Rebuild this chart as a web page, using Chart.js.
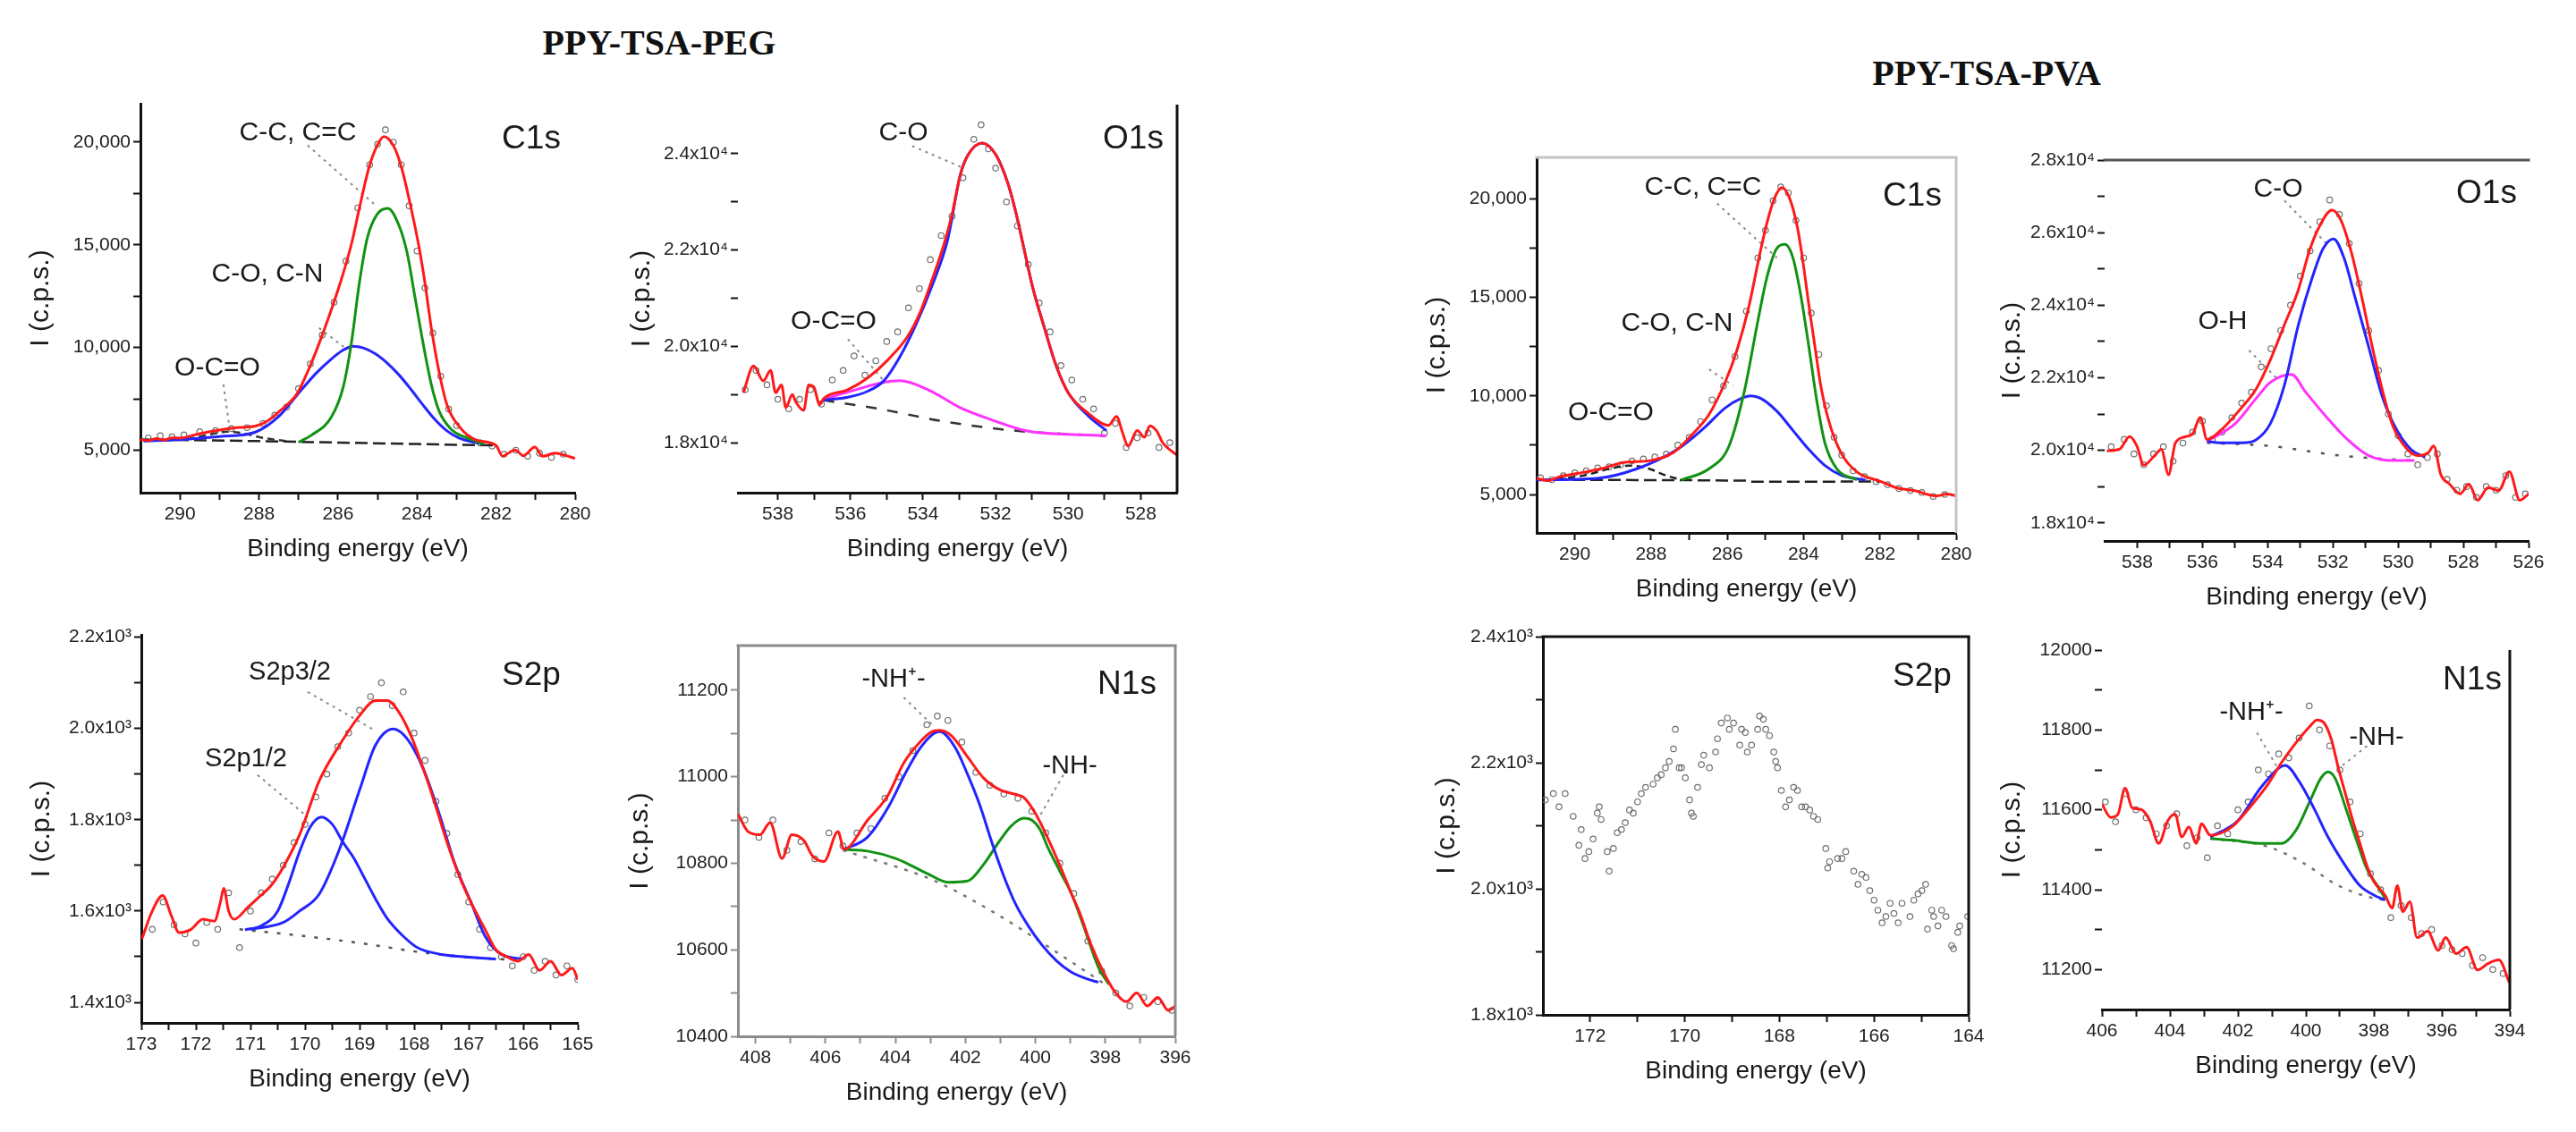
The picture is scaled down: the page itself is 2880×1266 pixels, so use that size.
<!DOCTYPE html>
<html>
<head>
<meta charset="utf-8">
<script src="https://cdn.jsdelivr.net/npm/chart.js@4.4.1/dist/chart.umd.min.js"></script>
<style>
html, body { margin: 0; padding: 0; background: #fff; }
#page { position: relative; width: 2880px; height: 1266px; overflow: hidden; background: #fff; }
canvas { position: absolute; }
.note { position: absolute; transform: translate(-50%, -50%); font-family: "Liberation Sans", Arial, sans-serif; color: #1a1a1a; white-space: nowrap; line-height: 1; }
.title { position: absolute; transform: translate(-50%, -50%); font-family: "Liberation Serif", "Times New Roman", serif; font-weight: bold; font-size: 40px; color: #111; white-space: nowrap; line-height: 1; }
</style>
</head>
<body>
<div id="page">
  <canvas id="pegC1s"></canvas>
  <canvas id="pegO1s"></canvas>
  <canvas id="pegS2p"></canvas>
  <canvas id="pegN1s"></canvas>
  <canvas id="pvaC1s"></canvas>
  <canvas id="pvaO1s"></canvas>
  <canvas id="pvaS2p"></canvas>
  <canvas id="pvaN1s"></canvas>
</div>
<script>
// Data: [binding energy (eV), intensity (c.p.s.)]

// PPY-TSA-PEG, C1s
const pegC1sFit = [[291.0,5510],[290.8,5470],[290.6,5560],[290.4,5500],[290.2,5600],[290.0,5590],[289.6,5760],[289.28,5890],[288.9,6010],[288.51,6110],[288.09,6170],[287.8,6400],[287.48,6896],[287.03,7768],[286.75,8900],[286.47,10240],[286.17,11835],[285.92,13290],[285.66,15034],[285.46,16778],[285.21,18810],[285.01,19830],[284.84,20265],[284.6,19830],[284.4,18810],[284.15,16778],[283.95,14887],[283.8,13142],[283.64,10963],[283.44,8784],[283.24,7188],[282.94,6168],[282.53,5514],[282.0,5227],[281.84,4717],[281.52,5009],[281.31,4730],[281.02,5150],[280.82,4700],[280.51,4860],[280.2,4720],[280.0,4600]];
const pegC1sCC = [[287.0,5380],[286.67,5733],[286.17,6604],[285.87,8060],[285.66,10240],[285.46,13142],[285.26,15322],[285.01,16486],[284.74,16778],[284.45,15906],[284.25,14598],[284.05,12419],[283.85,10240],[283.64,8204],[283.44,6896],[283.14,6024],[282.73,5588],[282.3,5300]];
const pegC1sCO = [[290.92,5443],[290.01,5514],[289.0,5661],[288.09,5880],[287.48,6678],[287.03,7700],[286.57,8714],[286.17,9438],[285.87,9874],[285.62,10065],[285.36,9978],[285.06,9700],[284.76,9250],[284.45,8650],[284.15,7950],[283.85,7200],[283.55,6500],[283.25,5950],[282.95,5600],[282.6,5400],[282.3,5300]];
const pegC1sOCO = [[290.4,5480],[289.8,5560],[289.2,5780],[288.8,5900],[288.4,5820],[287.9,5600],[287.3,5440]];
const pegC1sBg = [[291.0,5520],[288.0,5440],[286.0,5370],[284.0,5300],[282.0,5230]];
const pegC1sRaw = [[290.8,5600],[290.5,5700],[290.2,5650],[289.9,5750],[289.5,5900],[289.1,5950],[288.7,6050],[288.3,6100],[287.9,6300],[287.6,6700],[287.3,7100],[287.0,8000],[286.7,9200],[286.4,10600],[286.1,12200],[285.8,14200],[285.5,16800],[285.2,18900],[285.0,19900],[284.8,20600],[284.6,20000],[284.4,18900],[284.2,16900],[284.0,14700],[283.8,12900],[283.6,10700],[283.4,8600],[283.2,7000],[283.0,6200],[282.7,5600],[282.4,5350],[282.1,5200],[281.8,4800],[281.5,5000],[281.2,4700],[280.9,4850],[280.6,4650],[280.3,4800]];
const pegC1sLeaders = [[[286.77,19843],[285.05,16922]],[[286.48,10950],[285.86,10034]],[[288.9,8200],[288.74,6024]]];

// PPY-TSA-PEG, O1s
const pegO1sFit = [[538.95,19037],[538.67,19593],[538.4,19284],[538.2,19500],[538.06,19037],[537.9,19200],[537.78,18728],[537.6,19000],[537.51,18852],[537.29,18667],[537.15,19200],[537.01,19160],[536.85,18790],[536.74,18913],[536.07,19098],[535.52,19346],[534.97,19716],[534.42,20209],[534.08,20703],[533.75,21383],[533.42,22124],[533.2,22741],[532.98,23543],[532.76,23975],[532.37,24222],[531.99,23975],[531.65,23358],[531.43,22741],[531.21,22000],[530.99,21259],[530.66,20394],[530.33,19593],[530.0,19037],[529.44,18605],[528.89,18358],[528.67,18543],[528.5,18200],[528.35,17926],[528.1,18250],[527.9,18111],[527.75,18350],[527.56,18240],[527.4,18000],[527.23,17870],[527.0,17740]];
const pegO1sCO = [[536.74,18883],[536.07,18944],[535.52,19068],[535.08,19284],[534.64,19778],[534.19,20457],[533.75,21259],[533.31,22247],[532.98,23543],[532.76,23975],[532.37,24222],[531.99,23975],[531.65,23358],[531.43,22741],[531.21,22000],[530.99,21259],[530.66,20394],[530.33,19593],[530.0,19037],[529.44,18550],[528.95,18250]];
const pegO1sOCO = [[536.74,18900],[535.85,19098],[535.08,19253],[534.64,19284],[533.86,19098],[532.98,18728],[532.14,18482],[531.1,18235],[530.0,18173],[528.95,18142]];
const pegO1sBg = [[536.74,18880],[535.2,18700],[533.5,18450],[531.5,18250],[529.0,18140]];
const pegO1sRaw = [[538.9,19100],[538.6,19500],[538.3,19200],[538.0,18900],[537.7,18700],[537.4,18900],[537.1,19100],[536.8,18800],[536.5,19300],[536.2,19500],[535.9,19800],[535.6,19400],[535.3,19700],[535.0,20100],[534.7,20300],[534.4,20800],[534.1,21200],[533.8,21800],[533.5,22300],[533.2,22700],[532.9,23500],[532.6,24300],[532.4,24600],[532.2,24100],[532.0,23700],[531.7,23000],[531.4,22500],[531.1,21700],[530.8,20900],[530.5,20300],[530.2,19600],[529.9,19300],[529.6,18900],[529.3,18700],[529.0,18200],[528.7,18400],[528.4,17900],[528.1,18100],[527.8,18200],[527.5,17900],[527.2,18000]];
const pegO1sLeaders = [[[534.3,24161],[532.87,23698]],[[536.07,20148],[535.08,19284]]];

// PPY-TSA-PEG, S2p
const pegS2pFit = [[172.99,1539],[172.8,1600],[172.61,1634],[172.45,1590],[172.31,1553],[172.1,1559],[171.87,1582],[171.66,1578],[171.55,1620],[171.49,1650],[171.4,1600],[171.3,1582],[171.05,1608],[170.84,1631],[170.62,1656],[170.4,1696],[170.1,1767],[169.74,1885],[169.37,1963],[169.0,2028],[168.71,2061],[168.49,2061],[168.27,2034],[168.05,1982],[167.83,1911],[167.61,1832],[167.39,1748],[167.17,1676],[166.95,1617],[166.7,1560],[166.5,1515],[166.3,1500],[166.1,1490],[165.9,1505],[165.7,1470],[165.5,1490],[165.3,1460],[165.1,1475],[165.0,1450]];
const pegS2p32 = [[171.0,1560],[170.4,1575],[170.1,1600],[169.74,1637],[169.37,1735],[169.0,1865],[168.71,1963],[168.38,1999],[168.12,1976],[167.83,1911],[167.54,1813],[167.25,1702],[166.95,1617],[166.7,1545],[166.4,1505],[166.0,1495]];
const pegS2p12 = [[171.1,1559],[170.8,1568],[170.5,1600],[170.3,1660],[170.1,1730],[169.9,1785],[169.7,1806],[169.5,1790],[169.3,1750],[169.1,1715],[168.9,1670],[168.7,1625],[168.5,1585],[168.2,1545],[167.94,1520],[167.5,1505],[167.1,1500],[166.5,1495]];
const pegS2pBg = [[171.2,1560],[170.0,1545],[169.0,1530],[167.7,1507],[166.5,1495],[166.0,1492]];
const pegS2pRaw = [[172.8,1560],[172.6,1620],[172.4,1570],[172.2,1550],[172.0,1530],[171.8,1575],[171.6,1560],[171.4,1640],[171.2,1520],[171.0,1600],[170.8,1640],[170.6,1670],[170.4,1700],[170.2,1750],[170.0,1790],[169.8,1850],[169.6,1900],[169.4,1960],[169.2,1990],[169.0,2040],[168.8,2070],[168.6,2100],[168.4,2050],[168.2,2080],[168.0,1990],[167.8,1930],[167.6,1840],[167.4,1770],[167.2,1680],[167.0,1620],[166.8,1560],[166.6,1520],[166.4,1500],[166.2,1480],[166.0,1500],[165.8,1470],[165.6,1490],[165.4,1460],[165.2,1480],[165.0,1450]];
const pegS2pLeaders = [[[169.95,2080],[168.71,1995]],[[170.87,1898],[169.95,1806]]];

// PPY-TSA-PEG, N1s
const pegN1sFit = [[408.5,10914],[408.21,10873],[407.87,10866],[407.58,10894],[407.24,10811],[406.96,10866],[406.61,10852],[406.38,10818],[406.04,10804],[405.64,10873],[405.47,10832],[404.79,10900],[404.22,10956],[403.76,11032],[403.3,11080],[402.96,11104],[402.73,11107],[402.39,11094],[401.93,11045],[401.48,10997],[401.02,10970],[400.56,10959],[400.33,10952],[399.99,10914],[399.65,10859],[399.31,10797],[398.96,10728],[398.74,10687],[398.4,10610],[398.0,10540],[397.7,10500],[397.4,10480],[397.1,10500],[396.8,10470],[396.5,10490],[396.2,10460],[396.0,10470]];
const pegN1sNHp = [[405.47,10832],[404.8,10860],[404.2,10930],[403.7,11010],[403.3,11065],[402.9,11100],[402.73,11104],[402.28,11066],[401.93,11004],[401.59,10935],[401.25,10850],[400.9,10770],[400.56,10705],[400.2,10655],[399.8,10610],[399.4,10575],[399.0,10550],[398.5,10532],[398.2,10525]];
const pegN1sNH = [[405.47,10832],[404.79,10828],[403.99,10811],[403.08,10776],[402.5,10756],[401.93,10759],[401.48,10797],[401.02,10852],[400.68,10887],[400.33,10904],[400.11,10900],[399.88,10880],[399.65,10838],[399.31,10783],[398.96,10728],[398.6,10650],[398.2,10560],[397.9,10520]];
const pegN1sBg = [[405.5,10830],[402.9,10760],[401.2,10687],[399.5,10600],[398.0,10520]];
const pegN1sRaw = [[408.3,10900],[407.9,10860],[407.5,10900],[407.1,10830],[406.7,10850],[406.3,10810],[405.9,10870],[405.5,10840],[405.1,10870],[404.7,10880],[404.3,10950],[403.9,11000],[403.5,11060],[403.1,11120],[402.8,11140],[402.5,11130],[402.1,11080],[401.7,11010],[401.3,10980],[400.9,10960],[400.5,10950],[400.1,10920],[399.7,10870],[399.3,10800],[398.9,10730],[398.5,10620],[398.1,10550],[397.7,10500],[397.3,10470],[396.9,10490],[396.5,10480],[396.1,10460]];
const pegN1sLeaders = [[[403.76,11183],[402.96,11121]],[[399.2,11004],[399.88,10908]]];

// PPY-TSA-PVA, C1s
const pvaC1sFit = [[291.0,5817],[290.7,5700],[290.4,5900],[289.94,6062],[289.31,6303],[288.68,6630],[288.05,6707],[287.42,7116],[286.9,8087],[286.48,9059],[286.06,10680],[285.75,12305],[285.43,14575],[285.17,17004],[284.96,18788],[284.75,20086],[284.57,20572],[284.38,20086],[284.17,18624],[284.02,16845],[283.86,14575],[283.7,12464],[283.55,10520],[283.34,8736],[283.02,7116],[282.6,6140],[281.97,5654],[281.55,5331],[281.3,5250],[281.03,5168],[280.75,5000],[280.51,4927],[280.25,5020],[280.0,4927]];
const pvaC1sCC = [[287.21,5735],[286.48,6303],[285.96,7438],[285.54,10357],[285.22,13599],[284.96,16031],[284.7,17490],[284.49,17685],[284.28,17004],[284.07,15062],[283.86,12464],[283.65,9708],[283.44,7601],[283.13,6303],[282.6,5735]];
const pvaC1sCO = [[291.0,5735],[289.42,5817],[288.37,6303],[287.32,7276],[286.59,8410],[286.06,9385],[285.64,9871],[285.38,10000],[285.12,9871],[284.7,9222],[284.28,8250],[283.86,7276],[283.44,6466],[283.02,5980],[282.39,5735]];
const pvaC1sOCO = [[290.78,5735],[289.73,5980],[289.1,6303],[288.58,6466],[288.05,6303],[287.63,5980],[287.21,5735]];
const pvaC1sBg = [[291.0,5735],[285.5,5700],[285.4,5650],[282.0,5654]];
const pvaC1sRaw = [[290.9,5850],[290.6,5750],[290.3,5950],[290.0,6100],[289.7,6200],[289.4,6350],[289.1,6400],[288.8,6500],[288.5,6700],[288.2,6800],[287.9,6900],[287.6,7050],[287.3,7500],[287.0,7900],[286.7,8700],[286.4,9800],[286.1,10500],[285.8,12000],[285.5,14300],[285.2,17000],[285.0,18400],[284.8,19900],[284.6,20600],[284.4,20300],[284.2,18900],[284.0,17000],[283.8,14200],[283.6,12100],[283.4,9500],[283.2,7900],[283.0,7000],[282.7,6200],[282.4,5900],[282.1,5650],[281.8,5500],[281.5,5300],[281.2,5200],[280.9,5100],[280.6,4900],[280.3,5000]];
const pvaC1sLeaders = [[[286.27,19760],[284.7,17004]],[[286.48,11350],[285.85,10520]]];

// PPY-TSA-PVA, O1s
const pvaO1sFit = [[538.93,19985],[538.55,20027],[538.23,20379],[538.01,20116],[537.8,19589],[537.47,19852],[537.26,20027],[537.04,19326],[536.83,20204],[536.5,20379],[536.29,20467],[536.07,20910],[535.86,20295],[535.43,20556],[534.89,21082],[534.35,21697],[533.92,22487],[533.49,23454],[533.06,24421],[532.73,25476],[532.41,26177],[532.03,26617],[531.76,26354],[531.44,25476],[531.12,24246],[530.79,22839],[530.47,21609],[530.15,20642],[529.72,20027],[529.39,19852],[529.07,19941],[528.91,20116],[528.69,19326],[528.42,19065],[528.1,18797],[527.83,19065],[527.56,18622],[527.24,18974],[526.92,18886],[526.59,19410],[526.27,18622],[526.0,18797]];
const pvaO1sCO = [[535.86,20246],[535.43,20204],[534.78,20204],[534.35,20291],[533.92,20731],[533.49,21784],[533.06,23454],[532.63,24772],[532.3,25562],[531.98,25827],[531.66,25300],[531.33,24246],[530.9,22839],[530.47,21434],[530.04,20556],[529.61,20027],[529.18,19808]];
const pvaO1sOH = [[535.86,20246],[535.0,20731],[534.35,21434],[533.92,21872],[533.27,22093],[532.84,21609],[532.19,20908],[531.55,20292],[530.9,19852],[530.15,19720],[529.5,19720]];
const pvaO1sBg = [[535.86,20204],[533.92,20116],[531.76,19852],[529.61,19720]];
const pvaO1sRaw = [[538.8,20100],[538.4,20300],[538.1,19900],[537.8,19600],[537.5,19900],[537.2,20100],[536.9,19700],[536.6,20200],[536.3,20500],[536.0,20800],[535.7,20300],[535.4,20500],[535.1,20900],[534.8,21300],[534.5,21600],[534.2,22300],[533.9,22800],[533.6,23300],[533.3,24000],[533.0,24800],[532.7,25500],[532.4,26300],[532.1,26900],[531.8,26500],[531.5,25700],[531.2,24600],[530.9,23300],[530.6,22200],[530.3,21000],[530.0,20400],[529.7,19900],[529.4,19600],[529.1,19800],[528.8,19900],[528.5,19200],[528.2,18900],[527.9,19000],[527.6,18700],[527.3,19000],[527.0,18900],[526.7,19300],[526.4,18700],[526.1,18800]];
const pvaO1sLeaders = [[[533.49,26881],[532.19,25694]],[[534.57,22755],[533.7,21961]]];

// PPY-TSA-PVA, S2p (raw counts only)
const pvaS2pRaw = [[172.95,2141],[172.78,2151],[172.66,2130],[172.53,2151],[172.36,2115],[172.24,2069],[172.19,2094],[172.11,2048],[172.03,2059],[171.94,2079],[171.85,2120],[171.81,2130],[171.77,2110],[171.64,2059],[171.6,2028],[171.51,2064],[171.43,2089],[171.34,2094],[171.26,2105],[171.17,2125],[171.09,2120],[171.0,2138],[170.92,2151],[170.83,2161],[170.67,2166],[170.58,2176],[170.5,2181],[170.41,2192],[170.33,2202],[170.24,2222],[170.2,2253],[170.12,2192],[170.07,2192],[169.99,2176],[169.9,2141],[169.86,2120],[169.82,2115],[169.73,2161],[169.65,2197],[169.6,2212],[169.48,2192],[169.35,2217],[169.31,2238],[169.23,2263],[169.1,2271],[169.06,2253],[168.97,2263],[168.84,2228],[168.8,2253],[168.72,2248],[168.68,2217],[168.59,2228],[168.46,2253],[168.42,2274],[168.34,2269],[168.29,2253],[168.21,2243],[168.12,2217],[168.08,2202],[168.04,2192],[167.96,2156],[167.87,2130],[167.79,2141],[167.7,2161],[167.62,2156],[167.53,2130],[167.45,2130],[167.36,2125],[167.28,2115],[167.19,2110],[167.02,2064],[166.98,2033],[166.94,2043],[166.77,2048],[166.68,2048],[166.6,2059],[166.43,2028],[166.34,2007],[166.26,2023],[166.17,2018],[166.09,1997],[166.0,1982],[165.92,1966],[165.83,1946],[165.75,1956],[165.66,1977],[165.58,1961],[165.49,1946],[165.41,1977],[165.24,1956],[165.16,1982],[165.07,1992],[164.99,1997],[164.91,2007],[164.87,1936],[164.78,1966],[164.74,1956],[164.65,1941],[164.57,1966],[164.48,1956],[164.36,1910],[164.32,1905],[164.23,1931],[164.19,1941],[164.02,1956]];

// PPY-TSA-PVA, N1s
const pvaN1sFit = [[406.0,11614],[405.74,11581],[405.53,11589],[405.32,11654],[405.11,11605],[404.85,11601],[404.59,11573],[404.33,11516],[404.06,11573],[403.85,11589],[403.65,11532],[403.44,11557],[403.23,11516],[403.07,11565],[402.81,11536],[402.18,11557],[401.66,11605],[401.13,11662],[400.71,11719],[400.29,11768],[399.88,11809],[399.67,11825],[399.46,11817],[399.25,11776],[399.04,11703],[398.83,11638],[398.62,11573],[398.41,11516],[398.2,11459],[397.99,11419],[397.67,11386],[397.46,11354],[397.31,11410],[397.15,11345],[396.94,11370],[396.73,11280],[396.42,11296],[396.1,11248],[395.89,11280],[395.58,11240],[395.27,11256],[394.95,11199],[394.64,11215],[394.32,11224],[394.01,11167]];
const pvaN1sNHp = [[402.81,11532],[402.0,11573],[401.34,11654],[400.77,11706],[400.61,11711],[400.19,11670],[399.77,11605],[399.35,11532],[398.83,11459],[398.41,11410],[397.99,11386],[397.67,11374]];
const pvaN1sNH = [[402.81,11528],[402.18,11524],[401.34,11516],[400.71,11516],[400.29,11549],[399.88,11622],[399.56,11679],[399.35,11695],[399.14,11679],[398.83,11605],[398.51,11524],[398.2,11451],[397.83,11402],[397.67,11378]];
const pvaN1sBg = [[402.81,11528],[401.13,11508],[400.08,11467],[399.04,11410],[397.99,11378],[397.67,11374]];
const pvaN1sRaw = [[405.9,11620],[405.6,11570],[405.3,11640],[405.0,11600],[404.7,11580],[404.4,11540],[404.1,11560],[403.8,11590],[403.5,11510],[403.2,11530],[402.9,11480],[402.6,11560],[402.3,11540],[402.0,11600],[401.7,11620],[401.4,11700],[401.1,11690],[400.8,11740],[400.5,11730],[400.2,11780],[399.9,11860],[399.6,11800],[399.3,11760],[399.0,11700],[398.7,11620],[398.4,11540],[398.1,11440],[397.8,11400],[397.5,11330],[397.2,11360],[396.9,11330],[396.6,11290],[396.3,11300],[396.0,11260],[395.7,11250],[395.4,11240],[395.1,11210],[394.8,11230],[394.5,11200],[394.2,11190]];
const pvaN1sLeaders = [[[401.44,11793],[400.82,11703]],[[398.2,11760],[399.04,11703]]];

// Tick values
const c1sXMajor = [280, 282, 284, 286, 288, 290];
const c1sXMinor = [281, 283, 285, 287, 289];
const c1sYMajor = [5000, 10000, 15000, 20000];
const c1sYMinor = [7500, 12500, 17500];
const o1sXMajor = [528, 530, 532, 534, 536, 538];
const o1sXMinor = [529, 531, 533, 535, 537];
const pegO1sYMajor = [18000, 20000, 22000, 24000];
const pegO1sYMinor = [19000, 21000, 23000];
const pvaO1sXMajor = [526, 528, 530, 532, 534, 536, 538];
const pvaO1sXMinor = [527, 529, 531, 533, 535, 537];
const pvaO1sYMajor = [18000, 20000, 22000, 24000, 26000, 28000];
const pvaO1sYMinor = [19000, 21000, 23000, 25000, 27000];
const pegS2pXMajor = [165, 166, 167, 168, 169, 170, 171, 172, 173];
const pegS2pXMinor = [165.5, 166.5, 167.5, 168.5, 169.5, 170.5, 171.5, 172.5];
const pegS2pYMajor = [1400, 1600, 1800, 2000, 2200];
const pegS2pYMinor = [1500, 1700, 1900, 2100];
const pvaS2pXMajor = [164, 166, 168, 170, 172];
const pvaS2pXMinor = [165, 167, 169, 171];
const pvaS2pYMajor = [1800, 2000, 2200, 2400];
const pvaS2pYMinor = [1900, 2100, 2300];
const pegN1sXMajor = [396, 398, 400, 402, 404, 406, 408];
const pegN1sXMinor = [397, 399, 401, 403, 405, 407];
const pegN1sYMajor = [10400, 10600, 10800, 11000, 11200];
const pegN1sYMinor = [10500, 10700, 10900, 11100];
const pvaN1sXMajor = [394, 396, 398, 400, 402, 404, 406];
const pvaN1sXMinor = [395, 397, 399, 401, 403, 405];
const pvaN1sYMajor = [11200, 11400, 11600, 11800, 12000];
const pvaN1sYMinor = [11300, 11500, 11700, 11900];

const FONT = '"Liberation Sans", Arial, sans-serif';
Chart.defaults.font.family = FONT;
Chart.defaults.color = '#222';

const RED = '#ff1a1a', BLUE = '#2424ff', GREEN = '#129212', MAGENTA = '#ff33ff';

// Tick label formats
const fmt = {
    comma: v => v.toLocaleString('en-US'),
    sci4: v => (v / 1e4).toFixed(1) + 'x10\u2074',
    sci3: v => (v / 1e3).toFixed(1) + 'x10\u00b3',
    plain: v => String(v)
};

// Dataset helpers
const pts = a => a.map(([x, y]) => ({ x, y }));
const line = (a, color, width, dash) => ({
    data: pts(a), borderColor: color, backgroundColor: color, borderWidth: width,
    borderDash: dash || [], pointRadius: 0, fill: false, cubicInterpolationMode: 'monotone'
});
const dots = a => ({
    data: pts(a), showLine: false, pointRadius: 3.2, pointBorderWidth: 1.2,
    pointBorderColor: '#6f6f6f', pointBackgroundColor: 'rgba(0,0,0,0)', borderColor: '#6f6f6f'
});
const leaders = list => list.map(a => line(a, '#8a8a8a', 2, [3, 5]));

// Extra frame edges (top / right) that are not axes
const framePlugin = {
    id: 'frame',
    afterDatasetsDraw(chart, args, o) {
        const a = chart.chartArea, ctx = chart.ctx;
        ctx.save();
        ctx.lineWidth = o.width || 3;
        const seg = (c, x1, y1, x2, y2) => {
            if (!c) return;
            ctx.strokeStyle = c;
            ctx.beginPath(); ctx.moveTo(x1, y1); ctx.lineTo(x2, y2); ctx.stroke();
        };
        seg(o.top, a.left - 1.5, a.top, a.right + 1.5, a.top);
        seg(o.right, a.right, a.top, a.right, a.bottom);
        ctx.restore();
    }
};

// Function to build one spectrum panel; box is the plot area on the page
function makePanel(id, box, p) {
    const yW = p.titleOff + 18, padT = 20, padR = 30, xH = 90;
    const cv = document.getElementById(id);
    const w = yW + box.r - box.l + padR, h = padT + box.b - box.t + xH;
    cv.width = w; cv.height = h;
    Object.assign(cv.style, { left: (box.l - yW) + 'px', top: (box.t - padT) + 'px', width: w + 'px', height: h + 'px' });
    const axisColor = p.axisColor || '#111';
    const tickFont = { size: 21 };

    new Chart(cv, {
        type: 'line',
        data: { datasets: p.sets },
        options: {
            responsive: false,
            animation: false,
            devicePixelRatio: 1,
            layout: { padding: { top: padT, right: padR, left: 0, bottom: 0 } },
            plugins: { legend: { display: false }, tooltip: { enabled: false }, frame: p.frame || {} },
            scales: {
                x: {
                    type: 'linear', reverse: true, min: p.x[1], max: p.x[0], bounds: 'data',
                    afterBuildTicks: s => { s.ticks = p.xMajor.concat(p.xMinor).sort((a, b) => a - b).map(v => ({ value: v })); },
                    afterFit: s => { s.height = xH; },
                    ticks: { autoSkip: false, maxRotation: 0, padding: 4, font: tickFont, color: '#222',
                        callback: v => p.xMajor.includes(v) ? String(v) : '' },
                    grid: { drawOnChartArea: false, tickLength: 8, tickWidth: 2, tickColor: axisColor },
                    border: { color: axisColor, width: 3 },
                    title: { display: true, text: 'Binding energy (eV)', font: { size: 28 }, color: '#1a1a1a', padding: { top: 0, bottom: 10 } }
                },
                y: {
                    type: 'linear', min: p.y[0], max: p.y[1], bounds: 'data',
                    afterBuildTicks: s => { s.ticks = p.yMajor.concat(p.yMinor).sort((a, b) => a - b).map(v => ({ value: v })); },
                    afterFit: s => { s.width = yW; },
                    ticks: { autoSkip: false, padding: 3, font: tickFont, color: '#222',
                        callback: v => p.yMajor.includes(v) ? fmt[p.fmt](v) : '' },
                    grid: { drawOnChartArea: false, tickLength: 8, tickWidth: 2, tickColor: axisColor },
                    border: { display: p.yLine !== false, color: axisColor, width: 3 },
                    title: { display: true, text: 'I (c.p.s.)', font: { size: 30 }, color: '#1a1a1a', padding: 0 }
                }
            }
        },
        plugins: [framePlugin]
    });
}

// Left block: PPY-TSA-PEG
makePanel('pegC1s', { l: 157, r: 643, t: 116, b: 551 }, {
    x: [291, 280], y: [2930, 21870], xMajor: c1sXMajor, xMinor: c1sXMinor, yMajor: c1sYMajor, yMinor: c1sYMinor,
    fmt: 'comma', titleOff: 111,
    sets: [line(pegC1sFit, RED, 3), line(pegC1sCC, GREEN, 3), line(pegC1sCO, BLUE, 3), line(pegC1sOCO, '#333', 2.5, [8, 5]),
        line(pegC1sBg, '#222', 2.5, [14, 6]), ...leaders(pegC1sLeaders), dots(pegC1sRaw)]
});
makePanel('pegO1s', { l: 825, r: 1316, t: 117, b: 551 }, {
    x: [539.1, 527], y: [16960, 25020], xMajor: o1sXMajor, xMinor: o1sXMinor, yMajor: pegO1sYMajor, yMinor: pegO1sYMinor,
    fmt: 'sci4', titleOff: 107, yLine: false, frame: { right: '#111' },
    sets: [line(pegO1sFit, RED, 3), line(pegO1sCO, BLUE, 3), line(pegO1sOCO, MAGENTA, 3),
        line(pegO1sBg, '#333', 2.5, [12, 12]), ...leaders(pegO1sLeaders), dots(pegO1sRaw)]
});
makePanel('pegS2p', { l: 158, r: 646, t: 710, b: 1144 }, {
    x: [173, 165], y: [1355, 2205], xMajor: pegS2pXMajor, xMinor: pegS2pXMinor, yMajor: pegS2pYMajor, yMinor: pegS2pYMinor,
    fmt: 'sci3', titleOff: 111,
    sets: [line(pegS2pFit, RED, 3), line(pegS2p32, BLUE, 3), line(pegS2p12, BLUE, 3),
        line(pegS2pBg, '#555', 2.5, [4, 10]), ...leaders(pegS2pLeaders), dots(pegS2pRaw)]
});
makePanel('pegN1s', { l: 825, r: 1314, t: 722, b: 1159 }, {
    x: [408.5, 396], y: [10400, 11303], xMajor: pegN1sXMajor, xMinor: pegN1sXMinor, yMajor: pegN1sYMajor, yMinor: pegN1sYMinor,
    fmt: 'plain', titleOff: 109, axisColor: '#8c8c8c', frame: { top: '#8c8c8c', right: '#8c8c8c' },
    sets: [line(pegN1sFit, RED, 3), line(pegN1sNHp, BLUE, 3), line(pegN1sNH, GREEN, 3),
        line(pegN1sBg, '#777', 2.5, [4, 8]), ...leaders(pegN1sLeaders), dots(pegN1sRaw)]
});

// Right block: PPY-TSA-PVA
makePanel('pvaC1s', { l: 1718, r: 2187, t: 176, b: 596 }, {
    x: [291, 280], y: [3050, 22100], xMajor: c1sXMajor, xMinor: c1sXMinor, yMajor: c1sYMajor, yMinor: c1sYMinor,
    fmt: 'comma', titleOff: 111, frame: { top: '#c4c4c4', right: '#c4c4c4' },
    sets: [line(pvaC1sFit, RED, 3), line(pvaC1sCC, GREEN, 3), line(pvaC1sCO, BLUE, 3), line(pvaC1sOCO, '#222', 2.5, [8, 5]),
        line(pvaC1sBg, '#222', 2.5, [14, 6]), ...leaders(pvaC1sLeaders), dots(pvaC1sRaw)]
});
makePanel('pvaO1s', { l: 2353, r: 2827, t: 179, b: 605 }, {
    x: [539, 526], y: [17500, 28000], xMajor: pvaO1sXMajor, xMinor: pvaO1sXMinor, yMajor: pvaO1sYMajor, yMinor: pvaO1sYMinor,
    fmt: 'sci4', titleOff: 103, yLine: false, frame: { top: '#555' },
    sets: [line(pvaO1sFit, RED, 3), line(pvaO1sCO, BLUE, 3), line(pvaO1sOH, MAGENTA, 3),
        line(pvaO1sBg, '#555', 2.5, [4, 12]), ...leaders(pvaO1sLeaders), dots(pvaO1sRaw)]
});
makePanel('pvaS2p', { l: 1725, r: 2201, t: 712, b: 1135 }, {
    x: [173, 164], y: [1800, 2400], xMajor: pvaS2pXMajor, xMinor: pvaS2pXMinor, yMajor: pvaS2pYMajor, yMinor: pvaS2pYMinor,
    fmt: 'sci3', titleOff: 107, frame: { top: '#111', right: '#111' },
    sets: [dots(pvaS2pRaw)]
});
makePanel('pvaN1s', { l: 2350, r: 2806, t: 727, b: 1129 }, {
    x: [406, 394], y: [11100, 12000], xMajor: pvaN1sXMajor, xMinor: pvaN1sXMinor, yMajor: pvaN1sYMajor, yMinor: pvaN1sYMinor,
    fmt: 'plain', titleOff: 100, yLine: false, frame: { right: '#111' },
    sets: [line(pvaN1sFit, RED, 3), line(pvaN1sNHp, BLUE, 3), line(pvaN1sNH, GREEN, 3),
        line(pvaN1sBg, '#777', 2.5, [4, 8]), ...leaders(pvaN1sLeaders), dots(pvaN1sRaw)]
});

// Peak labels and block titles
const notes = [
    ['C1s', 594, 153, 37], ['C-C, C=C', 333, 147, 30], ['C-O, C-N', 299, 305, 30], ['O-C=O', 243, 410, 30],
    ['O1s', 1267, 153, 37], ['C-O', 1010, 147, 30], ['O-C=O', 932, 358, 30],
    ['S2p', 594, 753, 37], ['S2p3/2', 324, 750, 29], ['S2p1/2', 275, 847, 29],
    ['N1s', 1260, 763, 37], ['-NH\u207a-', 999, 758, 29], ['-NH-', 1196, 855, 29],
    ['C1s', 2138, 217, 37], ['C-C, C=C', 1904, 208, 30], ['C-O, C-N', 1875, 360, 30], ['O-C=O', 1801, 460, 30],
    ['O1s', 2780, 214, 37], ['C-O', 2547, 210, 30], ['O-H', 2485, 358, 30],
    ['S2p', 2149, 754, 37],
    ['N1s', 2764, 758, 37], ['-NH\u207a-', 2517, 795, 29], ['-NH-', 2657, 823, 29]
];
const titles = [['PPY-TSA-PEG', 737, 48], ['PPY-TSA-PVA', 2221, 82]];

const page = document.getElementById('page');
notes.forEach(([text, x, y, size]) => {
    const d = document.createElement('div');
    d.className = 'note';
    d.textContent = text;
    Object.assign(d.style, { left: x + 'px', top: y + 'px', fontSize: size + 'px' });
    page.appendChild(d);
});
titles.forEach(([text, x, y]) => {
    const d = document.createElement('div');
    d.className = 'title';
    d.textContent = text;
    Object.assign(d.style, { left: x + 'px', top: y + 'px' });
    page.appendChild(d);
});
</script>
</body>
</html>
